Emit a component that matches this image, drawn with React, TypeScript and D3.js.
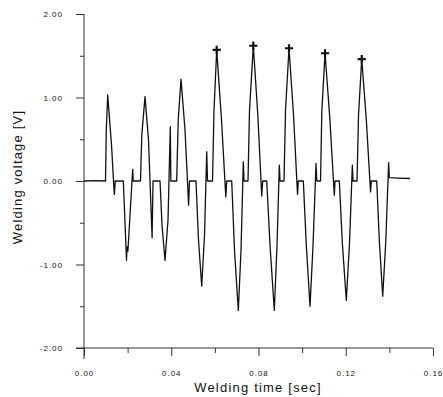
import React, { useEffect, useRef } from 'react';
import * as d3 from 'd3';

// welding voltage trace, [time s, volts]
const leadIn = [[0, 0], [0.0050, 0.005], [0.00986, 0]];
const cycle1 = [[0.01022, 0.61], [0.01087, 1.03], [0.01261, 0.43], [0.01389, -0.16], [0.01435, 0], [0.01802, 0], [0.01903, -0.65], [0.01949, -0.95], [0.01972, -0.79], [0.02013, -0.84], [0.02109, -0.41], [0.02233, 0.14], [0.02256, 0]];
const cycle2 = [[0.0259, 0], [0.0265, 0.55], [0.02797, 1.01], [0.02957, 0.49], [0.03122, -0.68], [0.03164, 0], [0.03485, 0], [0.03576, -0.53], [0.03714, -0.95], [0.03851, -0.47], [0.03957, 0.65], [0.0398, 0]];
const cycle3 = [[0.0425, 0], [0.04319, 0.73], [0.04448, 1.22], [0.04631, 0.61], [0.04796, -0.29], [0.04837, 0], [0.05135, 0], [0.0525, -0.71], [0.05397, -1.26], [0.05525, -0.65], [0.05626, 0.35], [0.05663, 0]];
const cycle4 = [[0.05892, 0], [0.0596, 0.85], [0.06084, 1.57], [0.06304, 0.73], [0.06501, -0.19], [0.06543, 0], [0.06772, 0], [0.069, -0.83], [0.07075, -1.55], [0.07198, -0.83], [0.07304, 0.23], [0.07336, 0]];
const cycle5 = [[0.07519, 0], [0.07588, 0.85], [0.07762, 1.62], [0.07969, 0.79], [0.08148, -0.18], [0.08193, 0], [0.08377, 0], [0.08528, -0.77], [0.08725, -1.55], [0.08849, -0.77], [0.08955, 0.19], [0.08987, 0]];
const cycle6 = [[0.0917, 0], [0.09239, 0.85], [0.09399, 1.59], [0.09606, 0.79], [0.09789, -0.16], [0.09826, 0], [0.10055, 0], [0.10192, -0.77], [0.10362, -1.5], [0.105, -0.77], [0.10637, 0.21], [0.10674, 0]];
const cycle7 = [[0.10843, 0], [0.10903, 0.83], [0.1105, 1.53], [0.1127, 0.75], [0.11476, -0.17], [0.11508, 0], [0.11705, 0], [0.11843, -0.74], [0.12026, -1.43], [0.12173, -0.74], [0.12302, 0.19], [0.12334, 0]];
const cycle8 = [[0.12517, 0], [0.12586, 0.79], [0.12733, 1.46], [0.12944, 0.73], [0.13136, -0.13], [0.13173, 0], [0.1342, 0], [0.13539, -0.71], [0.13695, -1.38], [0.13838, -0.71], [0.13966, 0.22], [0.13998, 0.04]];
const tail = [[0.1440, 0.035], [0.1495, 0.03]];

// peaks marked with a cross
const peakTimes = [0.06084, 0.07762, 0.09399, 0.1105, 0.12733];
const peakVolts = [1.57, 1.62, 1.59, 1.53, 1.46];

const xMajor = [0, 0.04, 0.08, 0.12, 0.16];
const xMinor = [0.02, 0.06, 0.1, 0.14];
const yMajor = [-2, -1, 0, 1, 2];
const yMinor = [-1.5, -0.5, 0.5, 1.5];

const FONT = '"Liberation Sans", Arial, sans-serif';

export default function App() {
  const svgRef = useRef<SVGSVGElement>(null);

  useEffect(() => {
    const width = 443;
    const height = 397;
    const svg = d3.select(svgRef.current).attr('width', width).attr('height', height);
    svg.selectAll('*').remove();

    const x = d3.scaleLinear().domain([0, 0.16]).range([84, 433]);
    const y = d3.scaleLinear().domain([-2, 2]).range([348, 14]);

    const fmt = (d: any) => (+d).toFixed(2);

    // y axis
    const yAx = svg.append('g').attr('transform', `translate(${x(0)},0)`);
    yAx.call(d3.axisLeft(y).tickValues(yMajor).tickSize(8).tickSizeOuter(0).tickPadding(13).tickFormat(fmt));
    yAx.append('g').call(d3.axisLeft(y).tickValues(yMinor).tickSize(4).tickSizeOuter(0).tickFormat(() => ''));
    yAx.selectAll('.domain').remove();
    yAx.append('line').attr('y1', y(2)).attr('y2', y(-2) + 11).attr('stroke', '#333');

    // x axis
    const xAx = svg.append('g').attr('transform', `translate(0,${y(-2)})`);
    xAx.call(d3.axisBottom(x).tickValues(xMajor).tickSize(8).tickSizeOuter(0).tickPadding(14).tickFormat(fmt));
    xAx.append('g').call(d3.axisBottom(x).tickValues(xMinor).tickSize(5).tickSizeOuter(0).tickFormat(() => ''));
    xAx.selectAll('.domain').remove();
    xAx.append('line').attr('x1', x(0) - 8).attr('x2', x(0.16)).attr('stroke', '#333');

    svg.selectAll('.tick line').attr('stroke', '#333');
    svg.selectAll('.tick text')
      .attr('font-family', FONT)
      .attr('font-size', 8)
      .attr('letter-spacing', 1)
      .attr('fill', '#111');

    // trace
    const trace = [leadIn, cycle1, cycle2, cycle3, cycle4, cycle5, cycle6, cycle7, cycle8, tail].flat();
    const line = d3.line<number[]>().x(d => x(d[0])).y(d => y(d[1]));
    svg.append('path')
      .datum(trace)
      .attr('d', line)
      .attr('fill', 'none')
      .attr('stroke', '#111')
      .attr('stroke-width', 1.3)
      .attr('stroke-linejoin', 'round');

    // peak markers
    const plus = (d3 as any).symbolPlus ?? d3.symbolCross;
    svg.append('g')
      .selectAll('path')
      .data(peakTimes.map((t, i) => [t, peakVolts[i]]))
      .enter()
      .append('path')
      .attr('transform', d => `translate(${x(d[0])},${y(d[1])})`)
      .attr('d', d3.symbol().type(plus).size(24)())
      .attr('fill', 'none')
      .attr('stroke', '#111')
      .attr('stroke-width', 2.2);

    // titles
    svg.append('text')
      .attr('x', 258)
      .attr('y', 392)
      .attr('text-anchor', 'middle')
      .attr('font-family', FONT)
      .attr('font-size', 13)
      .attr('letter-spacing', 1.2)
      .attr('fill', '#111')
      .text('Welding time [sec]');

    svg.append('text')
      .attr('transform', 'translate(22,177) rotate(-90)')
      .attr('text-anchor', 'middle')
      .attr('font-family', FONT)
      .attr('font-size', 13)
      .attr('letter-spacing', 1.2)
      .attr('fill', '#111')
      .text('Welding voltage [V]');
  }, []);

  return (
    <div style={{ position: 'absolute', left: 0, top: 0, background: '#fff' }}>
      <svg ref={svgRef}></svg>
    </div>
  );
}
